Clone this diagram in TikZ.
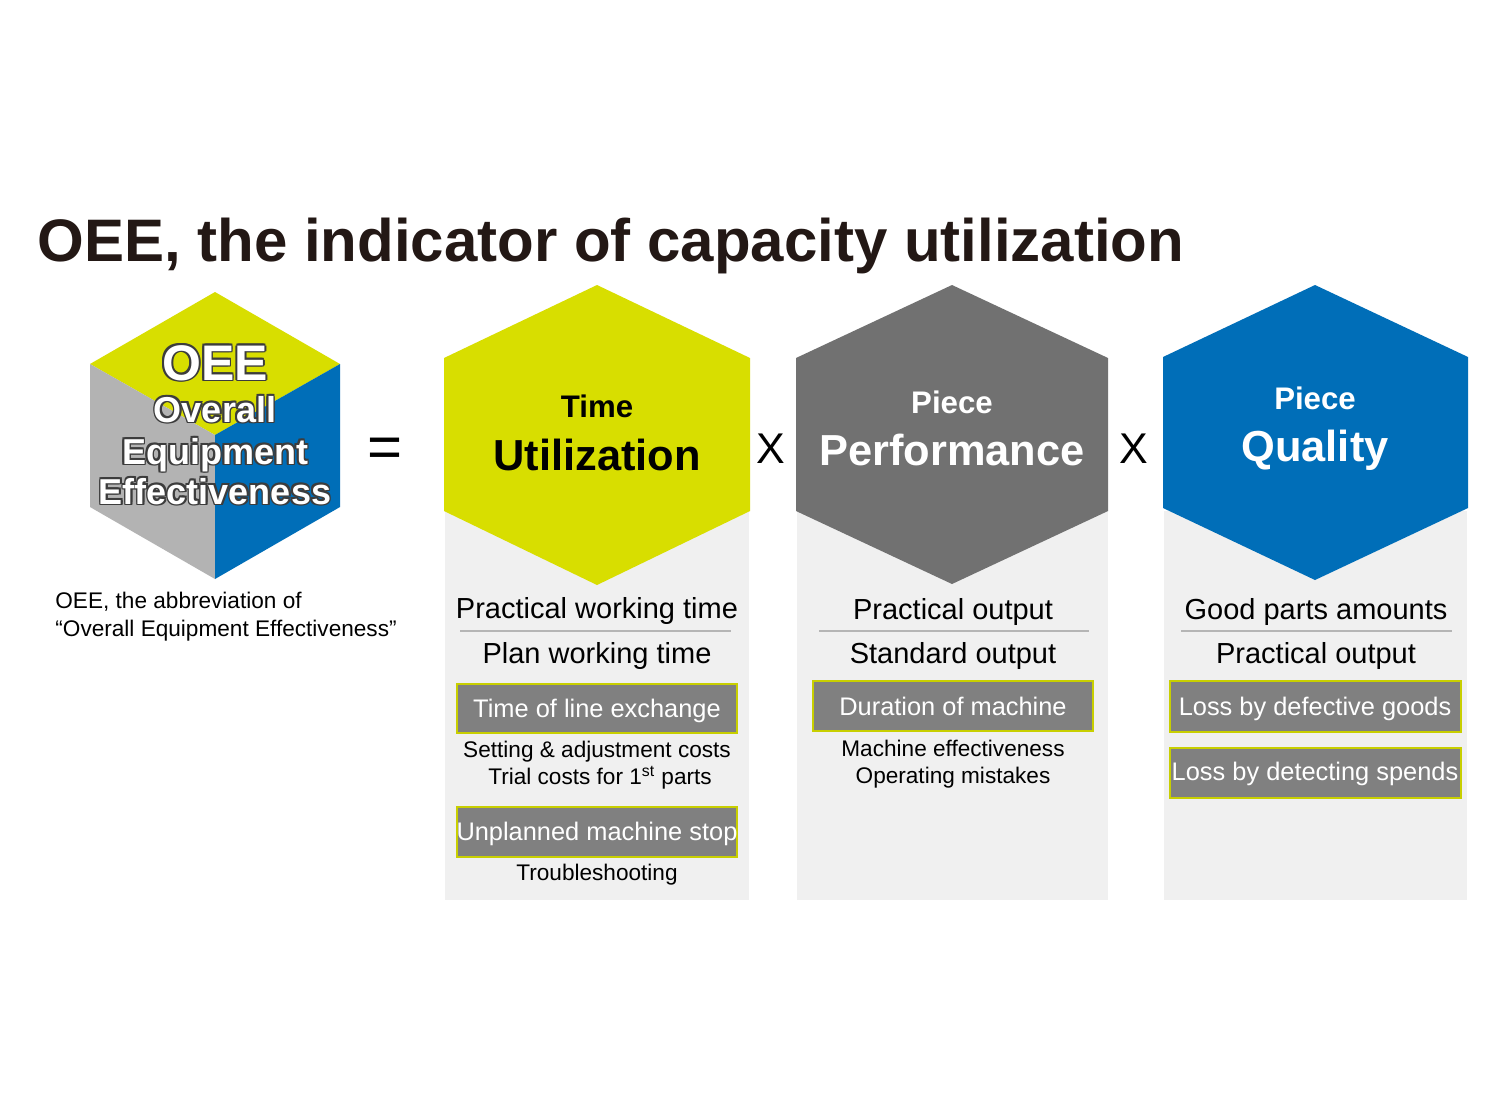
\documentclass[tikz,border=0pt]{standalone}
\usepackage{fontspec}
\setmainfont{Liberation Sans}

\definecolor{oeeyellow}{RGB}{216,222,0}
\definecolor{oeegray}{RGB}{113,113,113}
\definecolor{oeeblue}{RGB}{0,110,184}
\definecolor{cubegray}{RGB}{179,179,179}
\definecolor{panelgray}{RGB}{240,240,240}
\definecolor{boxgray}{RGB}{128,128,128}
\definecolor{boxline}{RGB}{200,207,0}
\definecolor{rulegray}{RGB}{181,181,181}
\definecolor{titleblack}{RGB}{35,24,21}
\definecolor{edgegray}{RGB}{60,60,60}

\tikzset{
    title/.style={anchor=base west, inner sep=0pt, text=titleblack, font=\bfseries\fontsize{30}{36}\selectfont},
    hexsmall/.style={anchor=base, inner sep=0pt, font=\bfseries\fontsize{15.6}{18}\selectfont},
    hexbig/.style={anchor=base, inner sep=0pt, font=\bfseries\fontsize{21.7}{26}\selectfont},
    body/.style={anchor=base, inner sep=0pt, font=\fontsize{14.5}{17}\selectfont},
    note/.style={anchor=base, inner sep=0pt, font=\fontsize{11.3}{14}\selectfont},
    lossbox/.style={draw=boxline, line width=0.6pt, fill=boxgray},
    losstext/.style={anchor=base, inner sep=0pt, text=white, font=\fontsize{12.7}{15}\selectfont},
    oper/.style={anchor=base, inner sep=0pt, font=\fontsize{21.5}{26}\selectfont},
    cubeedge/.style={anchor=base, inner sep=0pt, text=edgegray},
    cubetext/.style={anchor=base, inner sep=0pt, text=white}
}

\begin{document}
\begin{tikzpicture}[x=0.5pt, y=-0.5pt]
    \fill[white] (0,0) rectangle (1502,1110);
    \useasboundingbox (0,0) rectangle (1502,1110);

    % Title
    \node[title] (title) at (37,261) {OEE, the indicator of capacity utilization};

    % OEE cube
    \fill[oeeyellow] (215,292) -- (340,364) -- (215,435) -- (90,364) -- cycle;
    \fill[cubegray] (90,364) -- (215,435) -- (215,579) -- (90,507) -- cycle;
    \fill[oeeblue] (215,435) -- (340,364) -- (340,507) -- (215,579) -- cycle;
    \foreach \t/\yb/\fs [count=\i] in {OEE/380/25, Overall/422/18, Equipment/464/18, Effectiveness/504/18} {
        \foreach \a in {0,45,...,315}
            \node[cubeedge, font=\bfseries\fontsize{\fs}{\fs}\selectfont] (edge\i-\a) at ([shift={(\a:0.9pt)}]215,\yb) {\t};
        \node[cubetext, font=\bfseries\fontsize{\fs}{\fs}\selectfont] (cube\i) at (215,\yb) {\t};
    }
    \node[anchor=base west, inner sep=0pt, font=\fontsize{11.3}{14}\selectfont] (abbr1) at (55,608) {OEE, the abbreviation of};
    \node[anchor=base west, inner sep=0pt, font=\fontsize{11.3}{14}\selectfont] (abbr2) at (55,636) {``Overall Equipment Effectiveness''};

    % Operators
    \node[oper, font=\fontsize{30}{36}\selectfont] (eq) at (385,467) {=};
    \node[oper] (times1) at (771,463) {X};
    \node[oper] (times2) at (1134,463) {X};

    % Panels
    \fill[panelgray] (445,511) rectangle (749,900);
    \fill[panelgray] (797,511) rectangle (1108,900);
    \fill[panelgray] (1164,511) rectangle (1467,900);

    % 1 Time
    \fill[oeeyellow] (444,358) -- (597,285) -- (750,358) -- (750,511) -- (597,585) -- (444,511) -- cycle;
    \node[hexsmall] (time) at (597,417) {Time};
    \node[hexbig] (util) at (597,470) {Utilization};
    \node[body] (tnum) at (597,618) {Practical working time};
    \draw[rulegray, line width=1pt] (460,631) -- (731,631);
    \node[body] (tden) at (597,663) {Plan working time};
    \draw[lossbox] (457,684) rectangle (737,733);
    \node[losstext] (tloss1) at (597,717) {Time of line exchange};
    \node[note] (tcost1) at (597,757) {Setting \& adjustment costs};
    \node[note] (tcost2) at (600,784) {Trial costs for 1\textsuperscript{st} parts};
    \draw[lossbox] (457,807) rectangle (737,857);
    \node[losstext] (tloss2) at (597,840) {Unplanned machine stop};
    \node[note] (tcost3) at (597,880) {Troubleshooting};

    % 2 Performance
    \fill[oeegray] (796,358) -- (952,285) -- (1108,358) -- (1108,511) -- (952,584) -- (796,511) -- cycle;
    \node[hexsmall, text=white] (piece1) at (952,413) {Piece};
    \node[hexbig, text=white] (perf) at (952,465) {Performance};
    \node[body] (pnum) at (953,619) {Practical output};
    \draw[rulegray, line width=1pt] (819,631) -- (1089,631);
    \node[body] (pden) at (953,663) {Standard output};
    \draw[lossbox] (813,681) rectangle (1093,731);
    \node[losstext] (ploss) at (953,715) {Duration of machine};
    \node[note] (pcost1) at (953,756) {Machine effectiveness};
    \node[note] (pcost2) at (953,783) {Operating mistakes};

    % 3 Quality
    \fill[oeeblue] (1163,357) -- (1315,285) -- (1468,357) -- (1468,508) -- (1315,580) -- (1163,508) -- cycle;
    \node[hexsmall, text=white] (piece2) at (1315,409) {Piece};
    \node[hexbig, text=white] (qual) at (1315,461) {Quality};
    \node[body] (qnum) at (1316,619) {Good parts amounts};
    \draw[rulegray, line width=1pt] (1181,631) -- (1452,631);
    \node[body] (qden) at (1316,663) {Practical output};
    \draw[lossbox] (1170,681) rectangle (1461,732);
    \node[losstext] (qloss1) at (1315,715) {Loss by defective goods};
    \draw[lossbox] (1170,748) rectangle (1461,798);
    \node[losstext] (qloss2) at (1315,780) {Loss by detecting spends};

\end{tikzpicture}
\end{document}
